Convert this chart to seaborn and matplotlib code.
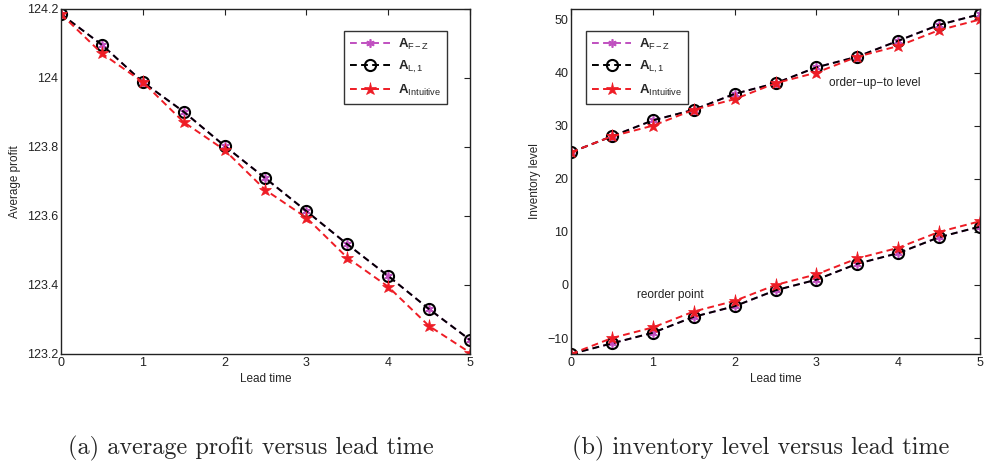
import numpy as np
import matplotlib
matplotlib.use("Agg")
import matplotlib.pyplot as plt
import seaborn as sns

# lead time grid
lead_time = [0, 0.5, 1, 1.5, 2, 2.5, 3, 3.5, 4, 4.5, 5]

# (a) average profit
profit_fz = [124.185, 124.096, 123.988, 123.902, 123.803, 123.709, 123.614, 123.518, 123.426, 123.330, 123.241]
profit_l1 = [124.185, 124.096, 123.988, 123.902, 123.803, 123.709, 123.614, 123.518, 123.426, 123.330, 123.241]
profit_int = [124.185, 124.071, 123.988, 123.872, 123.791, 123.675, 123.595, 123.479, 123.395, 123.281, 123.204]

# (b) inventory levels: order-up-to level and reorder point
out_fz = [25, 28, 31, 33, 36, 38, 41, 43, 46, 49, 51]
out_l1 = [25, 28, 31, 33, 36, 38, 41, 43, 46, 49, 51]
out_int = [25, 28, 30, 33, 35, 38, 40, 43, 45, 48, 50]
rop_fz = [-13, -11, -9, -6, -4, -1, 1, 4, 6, 9, 11]
rop_l1 = [-13, -11, -9, -6, -4, -1, 1, 4, 6, 9, 11]
rop_int = [-13, -10, -8, -5, -3, 0, 2, 5, 7, 10, 12]

labels = [r'$\mathbf{A}_{\mathrm{F-Z}}$', r'$\mathbf{A}_{\mathrm{L,1}}$',
          r'$\mathbf{A}_{\mathrm{Intuitive}}$']

sns.set_style("white")
plt.rcParams['font.family'] = ['Liberation Sans', 'DejaVu Sans']
plt.rcParams['mathtext.fontset'] = 'custom'
plt.rcParams['mathtext.rm'] = 'Liberation Sans'
plt.rcParams['mathtext.bf'] = 'Liberation Sans:bold'
plt.rcParams['mathtext.it'] = 'Liberation Sans:italic'

asterisk = (6, 2, 0)
magenta, red = '#c050c0', '#ee1c25'
# seaborn defaults marker edges to white, so set them explicitly
styles = [
    dict(color=magenta, marker=asterisk, markersize=6, markeredgewidth=1.2,
         markeredgecolor=magenta),
    dict(color='black', marker='o', markersize=8, markerfacecolor='none',
         markeredgewidth=1.5, markeredgecolor='black'),
    dict(color=red, marker='*', markersize=9.5, markeredgewidth=0.5,
         markeredgecolor=red),
]

fig = plt.figure(figsize=(9.88, 4.67), dpi=100)
ax1 = fig.add_axes([0.0617, 0.242, 0.414, 0.739])
ax2 = fig.add_axes([0.578, 0.242, 0.414, 0.739])


def draw(ax, y, st, label=None):
    sns.lineplot(x=lead_time, y=y, ax=ax, linestyle=(0, (3.5, 2.2)), linewidth=1.4,
                 label=label, legend=False, **st)


for y, st, lab in zip([profit_fz, profit_l1, profit_int], styles, labels):
    draw(ax1, y, st, lab)

for y, st, lab in zip([out_fz, out_l1, out_int], styles, labels):
    draw(ax2, y, st, lab)
for y, st in zip([rop_fz, rop_l1, rop_int], styles):
    draw(ax2, y, st)

ax1.set_xlim(0, 5)
ax1.set_ylim(123.2, 124.2)
ax1.set_yticks([123.2, 123.4, 123.6, 123.8, 124, 124.2])
ax1.set_yticklabels(['123.2', '123.4', '123.6', '123.8', '124', '124.2'])
ax1.set_ylabel('Average profit', fontsize=8.5, labelpad=4)

ax2.set_xlim(0, 5)
ax2.set_ylim(-13, 52)
ax2.set_yticks([-10, 0, 10, 20, 30, 40, 50])
ax2.set_yticklabels(['\u221210', '0', '10', '20', '30', '40', '50'])
ax2.set_ylabel('Inventory level', fontsize=8.5, labelpad=4)

ax2.text(3.15, 38, 'order\u2212up\u2212to level', fontsize=8.5, va='center', ha='left', color='#222222')
ax2.text(0.8, -1.9, 'reorder point', fontsize=8.5, va='center', ha='left', color='#222222')

for ax in (ax1, ax2):
    ax.set_xticks([0, 1, 2, 3, 4, 5])
    ax.set_xlabel('Lead time', fontsize=8.5, labelpad=3)
    ax.tick_params(direction='in', length=4, width=0.8, labelsize=9,
                   top=True, right=True, colors='#222222', pad=2)
    for sp in ax.spines.values():
        sp.set_visible(True)
        sp.set_color('#222222')
        sp.set_linewidth(1.0)

leg_kw = dict(fontsize=9.5, frameon=True, fancybox=False, edgecolor='black',
              handlelength=3.0, borderpad=0.45, labelspacing=0.55, handletextpad=0.6)
lg1 = ax1.legend(loc='upper right', bbox_to_anchor=(0.96, 0.955), **leg_kw)
lg2 = ax2.legend(loc='upper left', bbox_to_anchor=(0.02, 0.955), **leg_kw)
for lg in (lg1, lg2):
    lg.get_frame().set_linewidth(1.0)

cap_font = ['cmr10', 'DejaVu Serif']
fig.text(251 / 988, 1 - 448 / 467, '(a) average profit versus lead time',
         ha='center', va='center', fontsize=17.5, family=cap_font)
fig.text(761 / 988, 1 - 448 / 467, '(b) inventory level versus lead time',
         ha='center', va='center', fontsize=17.5, family=cap_font)

fig.savefig('out.png', dpi=100)
